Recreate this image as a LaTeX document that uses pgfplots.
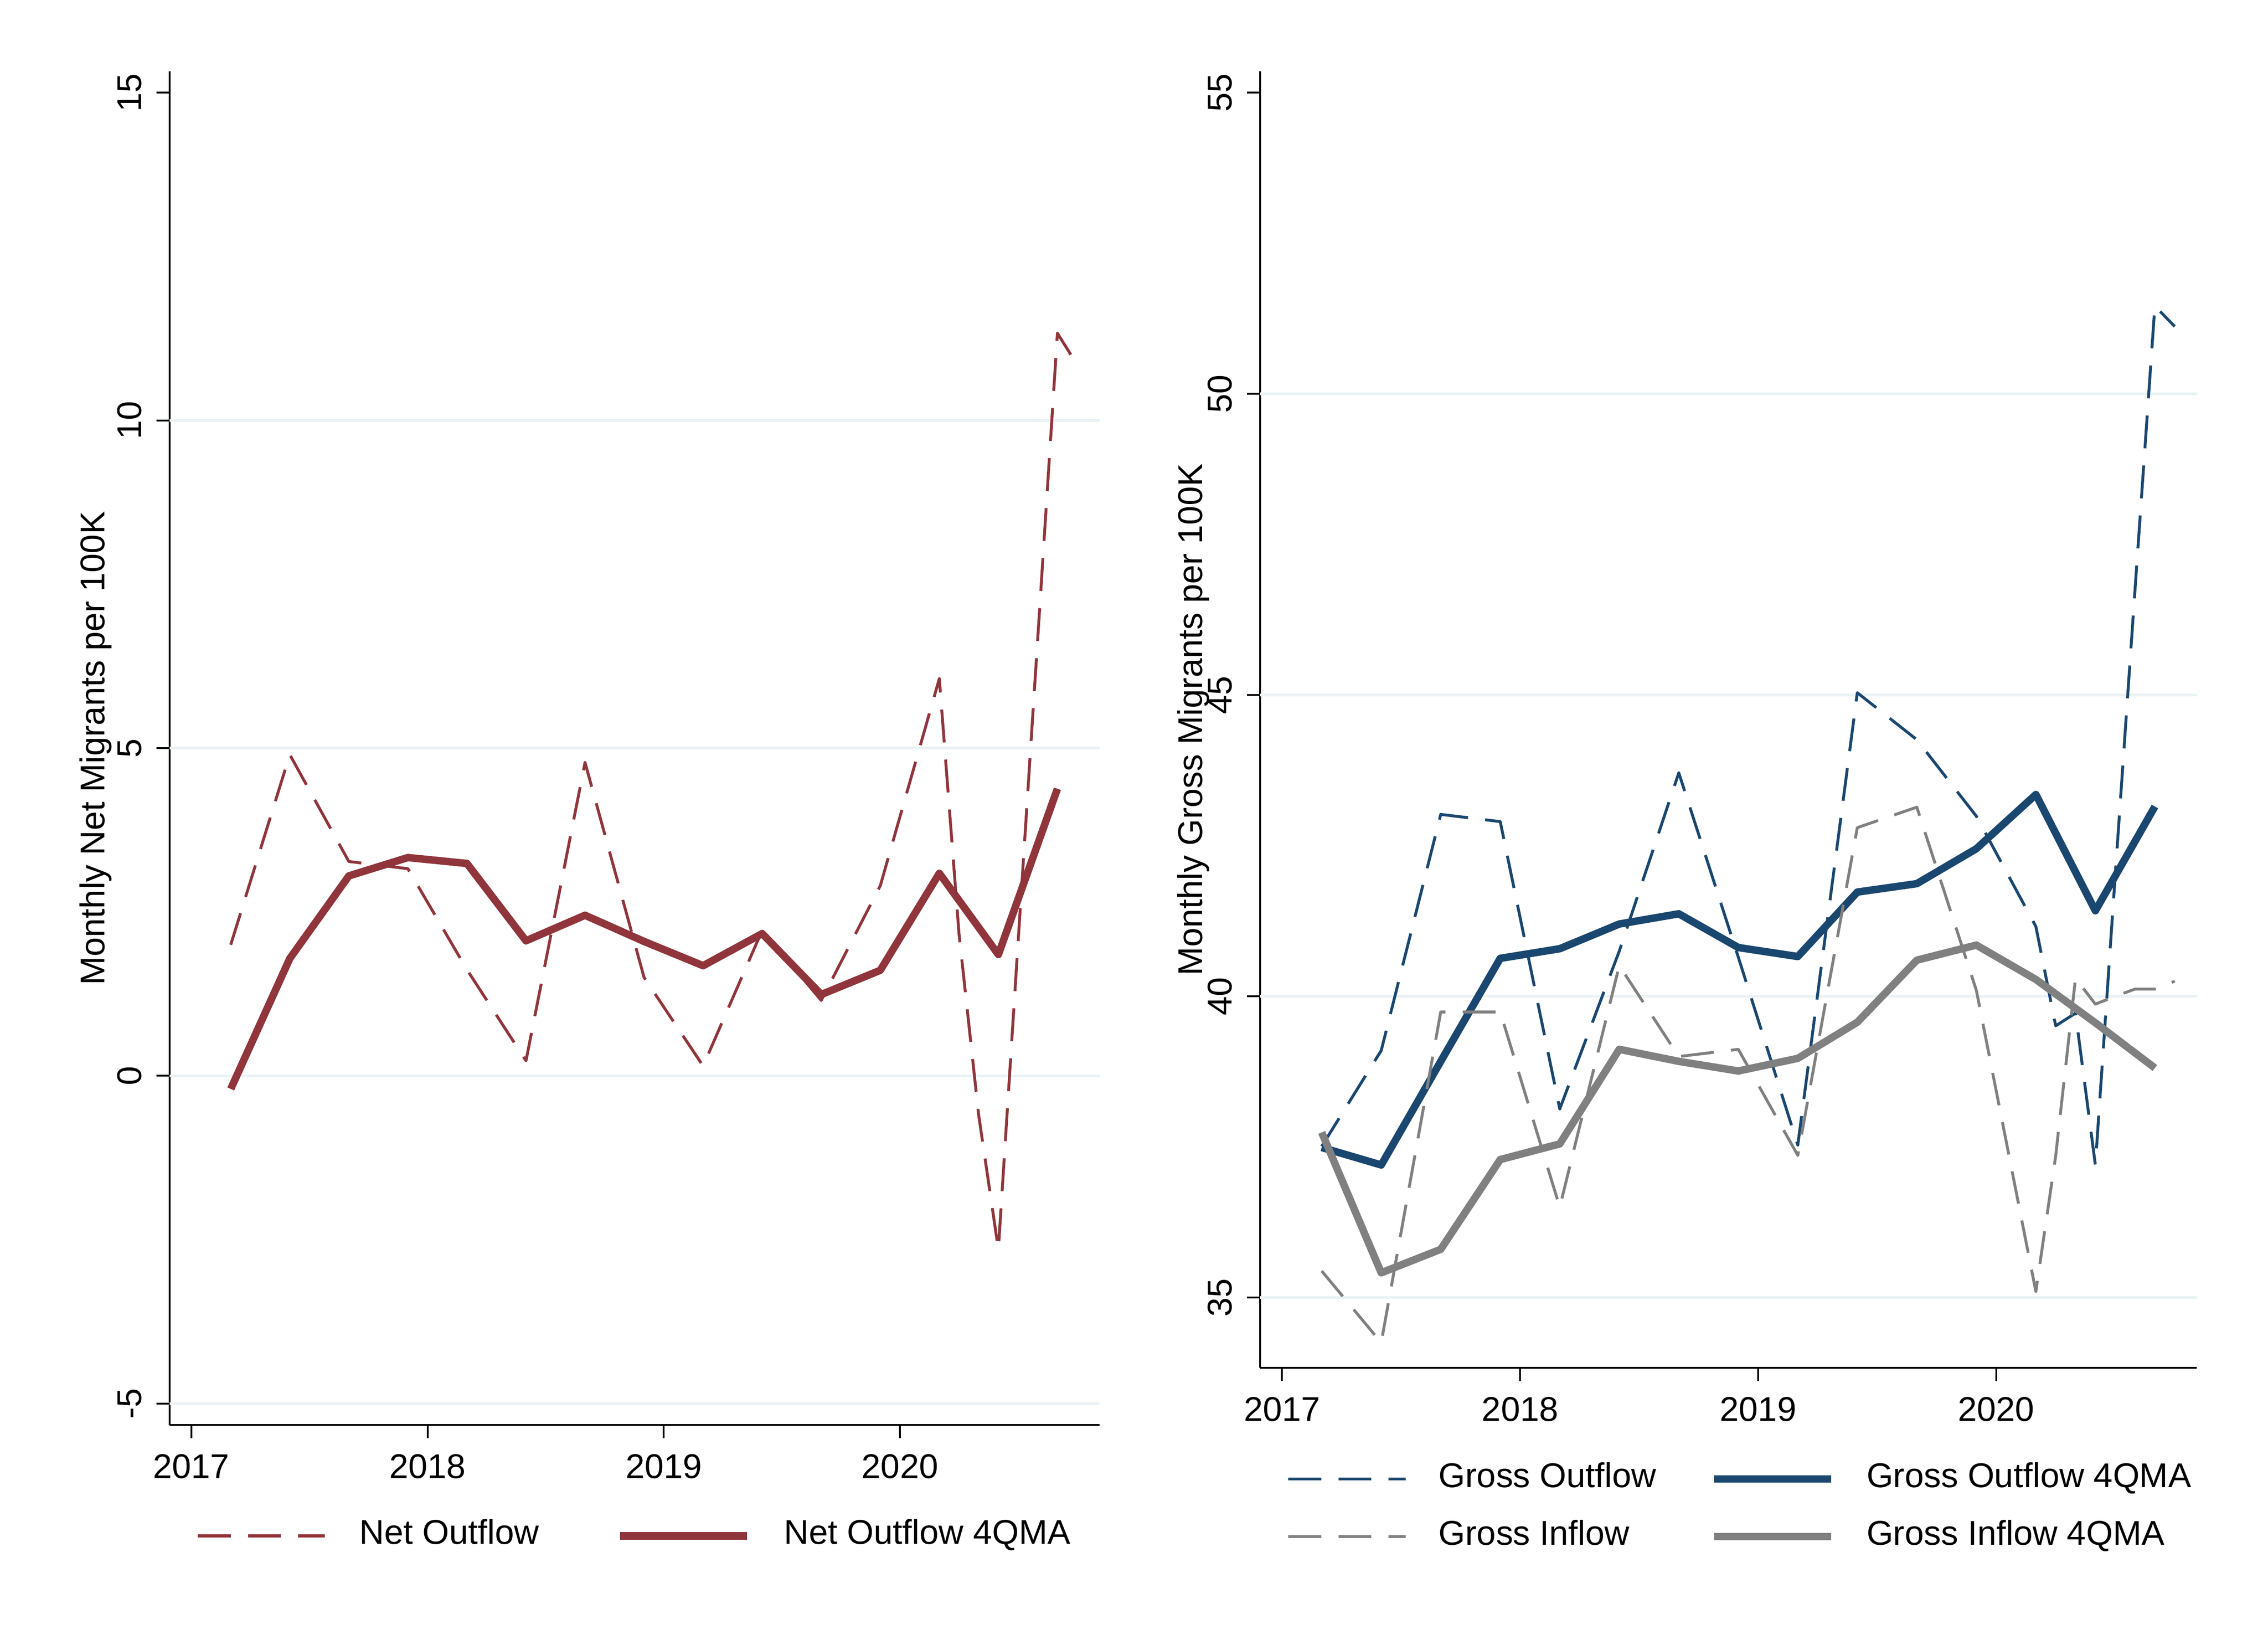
\documentclass[border=0pt]{standalone}
\usepackage{fontspec}
\setmainfont{Liberation Sans}
\usepackage{pgfplots}
\usepackage{pgfplotstable}
\pgfplotsset{compat=1.18}
\definecolor{stmaroon}{RGB}{144,53,59}
\definecolor{stnavy}{RGB}{26,71,111}
\definecolor{stgray}{RGB}{128,128,128}
\definecolor{stgrid}{RGB}{234,242,243}

% Net outflow (monthly points from 2020 on)
\pgfplotstableread{
x y
2017.1667 2.00
2017.4167 4.90
2017.6667 3.27
2017.9167 3.16
2018.1667 1.62
2018.4167 0.23
2018.6667 4.78
2018.9167 1.50
2019.1667 0.15
2019.4167 2.22
2019.6667 1.15
2019.9167 2.90
2020.1667 6.06
2020.2500 2.17
2020.3333 -0.60
2020.4167 -2.65
2020.5000 2.03
2020.5833 6.67
2020.6667 11.33
2020.7500 10.85
}\netout
\pgfplotstableread{
x y
2017.1667 -0.20
2017.4167 1.79
2017.6667 3.05
2017.9167 3.33
2018.1667 3.24
2018.4167 2.06
2018.6667 2.45
2018.9167 2.05
2019.1667 1.68
2019.4167 2.17
2019.6667 1.24
2019.9167 1.61
2020.1667 3.09
2020.4167 1.85
2020.6667 4.38
}\netma
\pgfplotstableread{
x y
2017.1667 37.51
2017.4167 39.10
2017.6667 43.02
2017.9167 42.90
2018.1667 38.13
2018.4167 40.75
2018.6667 43.71
2018.9167 40.65
2019.1667 37.53
2019.4167 45.04
2019.6667 44.26
2019.9167 42.99
2020.1667 41.16
2020.2500 39.51
2020.3333 39.72
2020.4167 37.20
2020.5000 42.00
2020.5833 46.75
2020.6667 51.46
2020.7500 51.12
}\grossout
\pgfplotstableread{
x y
2017.1667 37.49
2017.4167 37.20
2017.6667 38.92
2017.9167 40.63
2018.1667 40.79
2018.4167 41.20
2018.6667 41.37
2018.9167 40.81
2019.1667 40.66
2019.4167 41.73
2019.6667 41.87
2019.9167 42.45
2020.1667 43.35
2020.4167 41.42
2020.6667 43.15
}\grossoutma
\pgfplotstableread{
x y
2017.1667 35.44
2017.4167 34.25
2017.6667 39.74
2017.9167 39.74
2018.1667 36.50
2018.4167 40.51
2018.6667 39.00
2018.9167 39.12
2019.1667 37.36
2019.4167 42.80
2019.6667 43.14
2019.9167 40.10
2020.1667 35.10
2020.2500 37.35
2020.3333 40.30
2020.4167 39.87
2020.5000 40.00
2020.5833 40.12
2020.6667 40.12
2020.7500 40.25
}\grossin
\pgfplotstableread{
x y
2017.1667 37.74
2017.4167 35.41
2017.6667 35.80
2017.9167 37.29
2018.1667 37.55
2018.4167 39.12
2018.6667 38.92
2018.9167 38.76
2019.1667 38.97
2019.4167 39.57
2019.6667 40.60
2019.9167 40.85
2020.1667 40.28
2020.4167 39.56
2020.6667 38.81
}\grossinma

\newcommand{\sz}{\fontsize{6}{7.2}\selectfont}

\pgfplotsset{
  statastyle/.style={
    scale only axis,
    axis x line*=bottom, axis y line*=left,
    axis line style={-, black, line width=0.32pt},
    tick align=outside,
    major tick length=2.3pt,
    tick style={black, line width=0.32pt},
    minor tick num=0,
    font=\sz,
    tick label style={font=\sz},
    label style={font=\sz},
    xtick={2017,2018,2019,2020},
    xticklabels={2017,2018,2019,2020},
    xticklabel style={anchor=north, inner sep=0pt, yshift=-2.6pt},
    yticklabel style={xshift=-2.4pt, rotate=90, anchor=south, inner sep=0pt},
    extra y tick style={grid=major},
    major grid style={stgrid, line width=0.45pt},
    legend cell align=left,
    dashline/.style={line width=0.5pt, dash pattern=on 5.75pt off 3pt, line join=round},
    maline/.style={line width=1.3pt, line join=round},
  }
}

\begin{document}
\begin{tikzpicture}
\path[use as bounding box, fill=white] (0,0) rectangle (396pt,288pt);

% ---------------- Left panel ----------------
\begin{axis}[statastyle,
  at={(29.62pt,39.20pt)}, anchor=south west,
  width=162.36pt, height=236.33pt,
  xmin=2016.908, xmax=2020.845,
  ymin=-5.33, ymax=15.325,
  ytick={15}, yticklabels={15},
  extra y ticks={-5,0,5,10}, extra y tick labels={-5,0,5,10},
  ylabel={Monthly Net Migrants per 100K},
  every axis y label/.style={at={(axis description cs:-0.0612,0.5)}, rotate=90, anchor=south, inner sep=0pt, font=\sz},
  legend columns=2,
  legend image code/.code={\draw[#1] (0pt,0pt) -- (22.2pt,0pt);},
  legend style={at={(axis description cs:0.0288,-0.0818)}, anchor=west,
    draw=none, fill=none, inner sep=0pt, outer sep=0pt, font=\sz,
    nodes={inner sep=0pt},
    /tikz/every odd column/.append style={column sep=5.8pt},
    /tikz/every even column/.append style={column sep=13.45pt}},
]
\addplot[stmaroon, dashline] table[x=x,y=y] {\netout};
\addlegendentry{Net Outflow}
\addplot[stmaroon, maline] table[x=x,y=y] {\netma};
\addlegendentry{Net Outflow 4QMA}
\end{axis}

% ---------------- Right panel ----------------
\begin{axis}[statastyle,
  at={(220.02pt,49.18pt)}, anchor=south west,
  width=163.55pt, height=226.35pt,
  xmin=2016.908, xmax=2020.843,
  ymin=33.83, ymax=55.354,
  ytick={55}, yticklabels={55},
  extra y ticks={35,40,45,50}, extra y tick labels={35,40,45,50},
  ylabel={Monthly Gross Migrants per 100K},
  every axis y label/.style={at={(axis description cs:-0.0528,0.5)}, rotate=90, anchor=south, inner sep=0pt, font=\sz},
  legend columns=2,
  legend image code/.code={\draw[#1] (0pt,0pt) -- (20.5pt,0pt);},
  legend style={at={(axis description cs:0.0286,-0.1079)}, anchor=west,
    draw=none, fill=none, inner sep=0pt, outer sep=0pt, font=\sz,
    nodes={inner sep=0pt}, row sep=4.2pt,
    /tikz/every odd column/.append style={column sep=5.5pt},
    /tikz/every even column/.append style={column sep=9.4pt}},
]
\addplot[stnavy, dashline] table[x=x,y=y] {\grossout};
\addlegendentry{Gross Outflow}
\addplot[stnavy, maline] table[x=x,y=y] {\grossoutma};
\addlegendentry{Gross Outflow 4QMA}
\addplot[stgray, dashline] table[x=x,y=y] {\grossin};
\addlegendentry{Gross Inflow}
\addplot[stgray, maline] table[x=x,y=y] {\grossinma};
\addlegendentry{Gross Inflow 4QMA}
\end{axis}
\end{tikzpicture}
\end{document}
